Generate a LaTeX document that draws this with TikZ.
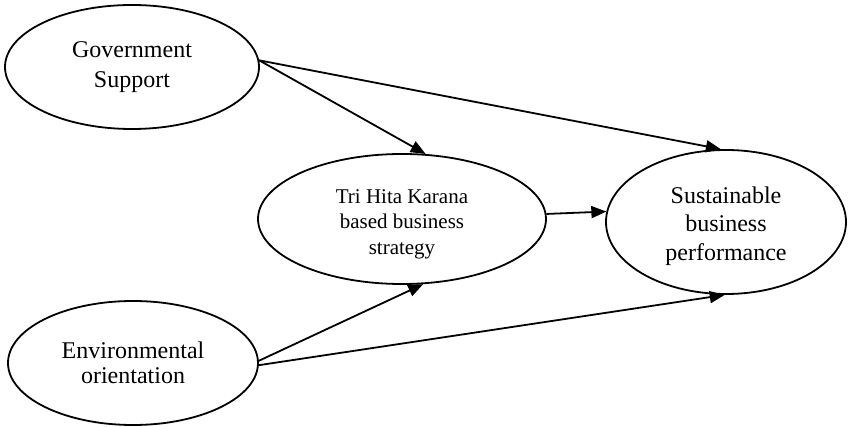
\documentclass[tikz,border=0pt]{standalone}
\usepackage{fontspec}
\setmainfont{Liberation Serif}
\usetikzlibrary{shapes.geometric,arrows.meta}
\begin{document}
\begin{tikzpicture}[x=0.5pt, y=-0.5pt, line width=0.9pt, line join=round, >={Stealth[length=7.5pt,width=6pt,inset=0pt]},
	var/.style={draw, ellipse, inner sep=0pt, align=center}]
	\useasboundingbox (0,0) rectangle (848,427);
	\node[var, minimum width=127pt, minimum height=62pt, font=\fontsize{12}{14.7}\selectfont] (gov) at (132,67) {Government\\Support};
	\node[var, minimum width=144pt, minimum height=65pt, font=\fontsize{10.5}{12.7}\selectfont] (tri) at (402,219) {\rule{0pt}{12.2pt}Tri Hita Karana\\based business\\strategy};
	\node[var, minimum width=120pt, minimum height=72pt, font=\fontsize{12}{14.3}\selectfont] (sust) at (726,222) {\rule{0pt}{12.2pt}Sustainable\\business\\performance};
	\node[var, minimum width=125pt, minimum height=62pt, font=\fontsize{12}{12.7}\selectfont] (env) at (133,363) {Environmental\\orientation};
	% paths
	\draw[->] (gov.3) -- (tri.70);
	\draw[->] (gov.3) -- (sust.94);
	\draw[->] (tri.2.4) -- (sust.175);
	\draw[->] (env.1.4) -- (tri.-72.6);
	\draw[->] (env.-1.4) -- (sust.-91.6);
\end{tikzpicture}
\end{document}
